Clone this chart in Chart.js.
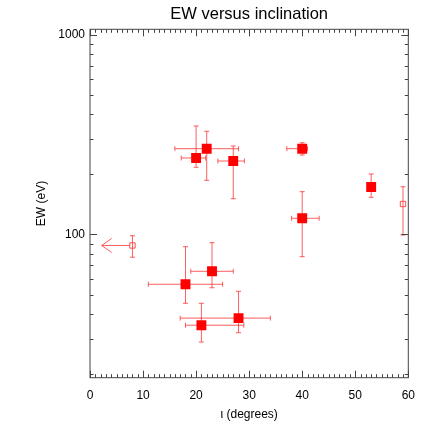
<!DOCTYPE html>
<html>
<head>
<meta charset="utf-8">
<script src="https://cdn.jsdelivr.net/npm/chart.js@4/dist/chart.umd.min.js"></script>
<style>
  html, body { margin: 0; padding: 0; background: #fff; }
  canvas { display: block; }
</style>
</head>
<body>
<canvas id="ewChart" width="436" height="436"></canvas>
<script>
// inclination (degrees) with its error range
const inclination = [18, 20, 21, 22, 23, 27, 28, 40, 40, 53, 8, 59];
const incLow      = [11, 17.2, 18, 16, 19, 24.1, 17, 37.1, 38, 53, 2.2, 59];
const incHigh     = [25, 21.8, 29, 28, 27, 29.1, 34, 41, 43.2, 53, 8, 59];
// equivalent width (eV) with its error range
const ew     = [56.3, 241.8, 35.1, 269.2, 65.4, 233.6, 38.1, 269.2, 120.6, 173.0, 88.1, 142.2];
const ewLow  = [45.2, 217.2, 28.9, 186.9, 54.1, 151.1, 32.2, 250.2, 77.4, 153.6, 76.9, 99.4];
const ewHigh = [86.9, 349.9, 45.2, 329.1, 91.0, 277.7, 51.9, 288.4, 163.9, 201.1, 98.6, 173.6];
// open symbol / inclination upper limit (arrow)
const isOpen  = [false, false, false, false, false, false, false, false, false, false, true, true];
const isLimit = [false, false, false, false, false, false, false, false, false, false, true, false];

const xTicks = [0, 10, 20, 30, 40, 50, 60];
const yTicks = [100, 1000];

const FONT = "'Liberation Sans', Arial, Helvetica, sans-serif";
const RED = "#ff0000";
const ERR = "rgba(255, 40, 40, 0.75)";

function pointsFor(open) {
    const pts = [];
    inclination.forEach((x, i) => {
        if (isOpen[i] === open) pts.push({ x: x, y: ew[i] });
    });
    return pts;
}

// error bars + upper-limit arrow
const errorBars = {
    id: "errorBars",
    beforeDatasetsDraw(chart) {
        const { ctx, scales: { x, y } } = chart;
        ctx.save();
        ctx.strokeStyle = ERR;
        ctx.lineWidth = 1;
        const cap = 2.5;
        inclination.forEach((xv, i) => {
            const px = x.getPixelForValue(xv);
            const py = y.getPixelForValue(ew[i]);
            // vertical
            const yl = y.getPixelForValue(ewLow[i]);
            const yh = y.getPixelForValue(ewHigh[i]);
            ctx.beginPath();
            ctx.moveTo(px, yl); ctx.lineTo(px, yh);
            ctx.moveTo(px - cap, yl); ctx.lineTo(px + cap, yl);
            ctx.moveTo(px - cap, yh); ctx.lineTo(px + cap, yh);
            ctx.stroke();
            // horizontal
            const xl = x.getPixelForValue(incLow[i]);
            const xh = x.getPixelForValue(incHigh[i]);
            if (isLimit[i]) {
                ctx.beginPath();
                ctx.moveTo(px - 3, py); ctx.lineTo(xl, py);
                ctx.moveTo(xl + 10, py - 7); ctx.lineTo(xl, py); ctx.lineTo(xl + 10, py + 7);
                ctx.stroke();
            } else if (xh - xl > 1) {
                ctx.beginPath();
                ctx.moveTo(xl, py); ctx.lineTo(xh, py);
                ctx.moveTo(xl, py - cap); ctx.lineTo(xl, py + cap);
                ctx.moveTo(xh, py - cap); ctx.lineTo(xh, py + cap);
                ctx.stroke();
            }
        });
        ctx.restore();
    }
};

// box frame with inward ticks on all four sides
const frame = {
    id: "frame",
    afterDraw(chart) {
        const { ctx, chartArea: a, scales: { x, y } } = chart;
        ctx.save();
        ctx.strokeStyle = "#444";
        ctx.lineWidth = 1;
        ctx.strokeRect(a.left, a.top, a.right - a.left, a.bottom - a.top);
        ctx.beginPath();
        for (let v = 0; v <= 60; v++) {
            const px = Math.round(x.getPixelForValue(v)) + 0.5;
            const len = v % 10 === 0 ? 7 : 3.5;
            ctx.moveTo(px, a.bottom); ctx.lineTo(px, a.bottom - len);
            ctx.moveTo(px, a.top); ctx.lineTo(px, a.top + len);
        }
        for (let d = 10; d <= 1000; d *= 10) {
            for (let k = 1; k <= 9; k++) {
                const v = k * d;
                if (v < y.min || v > y.max) continue;
                const py = Math.round(y.getPixelForValue(v)) + 0.5;
                const len = k === 1 ? 7 : 3.5;
                ctx.moveTo(a.left, py); ctx.lineTo(a.left + len, py);
                ctx.moveTo(a.right, py); ctx.lineTo(a.right - len, py);
            }
        }
        ctx.stroke();
        ctx.restore();
    }
};

new Chart(document.getElementById("ewChart"), {
    type: "scatter",
    data: {
        datasets: [
            {
                data: pointsFor(false),
                pointStyle: "rect",
                pointRadius: 7,
                backgroundColor: RED,
                borderColor: RED,
                borderWidth: 0
            },
            {
                data: pointsFor(true),
                pointStyle: "rect",
                pointRadius: 3.8,
                backgroundColor: "rgba(0,0,0,0)",
                borderColor: "rgba(255, 40, 40, 0.8)",
                borderWidth: 1
            }
        ]
    },
    options: {
        responsive: false,
        animation: false,
        devicePixelRatio: 1,
        layout: { padding: { top: 0, left: 0, right: 27.7, bottom: 0 } },
        plugins: {
            legend: { display: false },
            tooltip: { enabled: false },
            title: {
                display: true,
                text: "EW versus inclination",
                fullSize: false,
                color: "#000",
                font: { family: FONT, size: 16.5, weight: "normal" },
                padding: { top: 5, bottom: 4.5 }
            }
        },
        scales: {
            x: {
                type: "linear",
                min: 0,
                max: 60,
                afterFit: s => { s.height = 58.3; },
                afterBuildTicks: s => { s.ticks = xTicks.map(v => ({ value: v })); },
                grid: { display: false, drawTicks: false, tickLength: 0 },
                border: { display: false },
                ticks: { color: "#000", padding: 11, autoSkip: false, maxRotation: 0,
                         font: { family: FONT, size: 12 } },
                title: { display: true, text: "ι (degrees)", color: "#000",
                         font: { family: FONT, size: 12 }, padding: { top: 0, bottom: 13.8 } }
            },
            y: {
                type: "logarithmic",
                min: 19.15,
                max: 1068,
                afterFit: s => { s.width = 90; },
                afterBuildTicks: s => { s.ticks = yTicks.map(v => ({ value: v })); },
                grid: { display: false, drawTicks: false, tickLength: 0 },
                border: { display: false },
                ticks: { color: "#000", padding: 5, autoSkip: false,
                         callback: v => String(v),
                         font: { family: FONT, size: 12 } },
                title: { display: true, text: "EW (eV)", color: "#000",
                         font: { family: FONT, size: 12 }, padding: { top: 34.3, bottom: 0 } }
            }
        }
    },
    plugins: [errorBars, frame]
});
</script>
</body>
</html>
